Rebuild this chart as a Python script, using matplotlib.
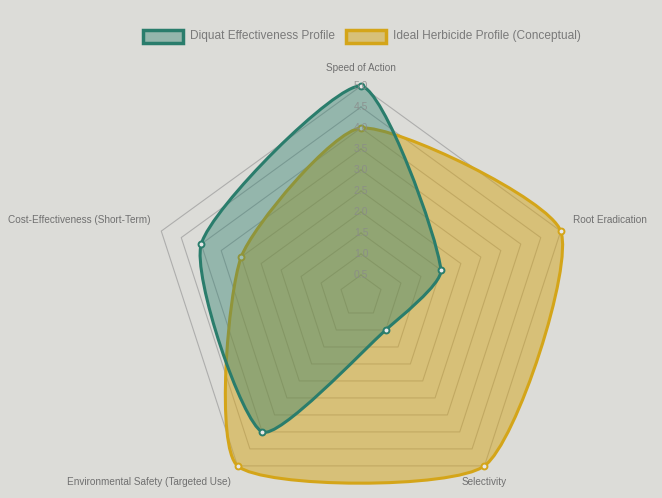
import numpy as np
import matplotlib
matplotlib.use("Agg")
import matplotlib.pyplot as plt
from matplotlib.path import Path
from matplotlib.patches import PathPatch, Rectangle

# ---- data ----
categories = ["Speed of Action", "Root Eradication", "Selectivity",
              "Environmental Safety (Targeted Use)", "Cost-Effectiveness (Short-Term)"]
diquat = [5, 2, 1, 4, 4]
ideal = [4, 5, 5, 5, 3]
series_names = ["Diquat Effectiveness Profile", "Ideal Herbicide Profile (Conceptual)"]
tick_values = [0.5, 1.0, 1.5, 2.0, 2.5, 3.0, 3.5, 4.0, 4.5, 5.0]
r_max = 5.0

# ---- style ----
W, H, DPI = 662, 498, 100
BG = "#dcdcd8"
TEAL = (42/255, 125/255, 108/255)
GOLD = (212/255, 165/255, 25/255)
TEXT = "#707070"
FONT = "Liberation Sans"
cx_px, cy_px, unit_px = 361, 296, 42.0
tension = 0.2

fig = plt.figure(figsize=(W/DPI, H/DPI), dpi=DPI, facecolor=BG)
ax = fig.add_axes([0, 0, 1, 1])
ax.set_facecolor(BG)
ax.set_xlim(-cx_px/unit_px, (W-cx_px)/unit_px)
ax.set_ylim(-(H-cy_px)/unit_px, cy_px/unit_px)
ax.axis("off")

n = len(categories)
angles = np.pi/2 - 2*np.pi*np.arange(n)/n

def to_xy(vals):
    v = np.asarray(vals, float)
    return np.column_stack([v*np.cos(angles), v*np.sin(angles)])

# grid pentagons
for t in tick_values:
    pts = to_xy([t]*n)
    pts = np.vstack([pts, pts[:1]])
    ax.plot(pts[:, 0], pts[:, 1], color="#9a9a9a", lw=0.8, alpha=0.7, zorder=1)

def spline_path(pts, t):
    m = len(pts)
    cps = []
    for i in range(m):
        p0, p1, p2 = pts[i-1], pts[i], pts[(i+1) % m]
        d01 = np.hypot(*(p1-p0)); d12 = np.hypot(*(p2-p1))
        s01 = d01/(d01+d12); s12 = d12/(d01+d12)
        fa, fb = t*s01, t*s12
        cps.append((p1 - fa*(p2-p0), p1 + fb*(p2-p0)))
    verts = [pts[0]]; codes = [Path.MOVETO]
    for i in range(m):
        j = (i+1) % m
        verts += [cps[i][1], cps[j][0], pts[j]]
        codes += [Path.CURVE4]*3
    return Path(verts, codes)

datasets = [(ideal, GOLD, 0.5, 3), (diquat, TEAL, 0.4, 4)]
for vals, col, alpha, z in datasets:
    pts = to_xy(vals)
    path = spline_path(pts, tension)
    ax.add_patch(PathPatch(path, facecolor=(*col, alpha), edgecolor="none", zorder=z))
    ax.add_patch(PathPatch(path, facecolor="none", edgecolor=col, lw=2.2, zorder=z+0.1))
    ax.scatter(pts[:, 0], pts[:, 1], s=18, facecolor="#e8e8e8", edgecolor=col, lw=1.4, zorder=z+0.2)

# tick labels
for t in tick_values:
    ax.text(0, t, f"{t:.1f}", ha="center", va="center", fontsize=7.5, color="#8a8a8a",
            family=FONT, alpha=0.8, zorder=6)

# point labels
for i, c in enumerate(categories):
    a = angles[i]
    px, py = r_max*np.cos(a), r_max*np.sin(a)
    if i == 0:
        ha, va = "center", "bottom"; x, y = px, py + 0.3
    elif i == 1:
        ha, va = "left", "center"; x, y = px + 0.3, py + 0.26
    elif i == 4:
        ha, va = "right", "center"; x, y = px - 0.25, py + 0.26
    elif i == 2:
        ha, va = "left", "top"; x, y = px - 0.55, py - 0.27
    else:
        ha, va = "right", "top"; x, y = px - 0.15, py - 0.27
    ax.text(x, y, c, ha=ha, va=va, fontsize=7.2, color=TEXT, family=FONT, zorder=6)

# legend (figure pixel coordinates)
def fx(px): return px / W
def fy(py): return 1 - py / H
leg_items = [(series_names[0], TEAL, 0.4, 143), (series_names[1], GOLD, 0.5, 346)]
for name, col, alpha, x0 in leg_items:
    fig.patches.append(Rectangle((fx(x0), fy(43)), 40/W, 13/H, transform=fig.transFigure,
                                 facecolor=(*col, alpha), edgecolor=col, lw=2.5))
    fig.text(fx(x0 + 47), fy(36.5), name, ha="left", va="center", fontsize=8.6,
             color="#7a7a7a", family=FONT)

fig.savefig("out.png", dpi=DPI, facecolor=BG)
